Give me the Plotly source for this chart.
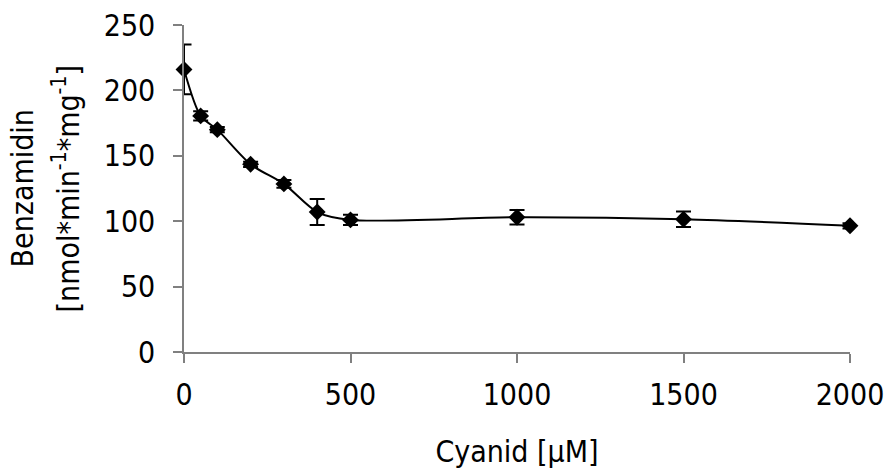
import plotly.graph_objects as go

cyanid = [0, 50, 100, 200, 300, 400, 500, 1000, 1500, 2000]
benzamidin = [216, 180.5, 170, 143.5, 128.5, 107, 101, 103, 101.5, 96.5]
errors = [19, 3.5, 2, 2, 3, 10, 4, 5.5, 6, 2]

x_ticks = [0, 500, 1000, 1500, 2000]
y_ticks = [0, 50, 100, 150, 200, 250]

x_title = "Cyanid [µM]"
y_title_lines = ["Benzamidin", "[nmol*min<sup>-1</sup>*mg<sup>-1</sup>]"]

FONT = "DejaVu Sans Condensed, DejaVu Sans, sans-serif"

fig = go.Figure()
fig.add_trace(go.Scatter(
    x=cyanid, y=benzamidin,
    mode="lines+markers",
    line=dict(color="black", width=2, shape="spline", smoothing=0.8),
    marker=dict(symbol="diamond", size=13, color="black"),
    error_y=dict(type="data", array=errors, visible=True, color="black", thickness=2, width=7.5),
    cliponaxis=False,
    showlegend=False,
))

axis_common = dict(
    showgrid=False, zeroline=False, showline=True, linecolor="#808080", linewidth=1.5,
    ticks="outside", ticklen=9, tickcolor="#808080", tickwidth=1.5,
    tickfont=dict(family=FONT, size=30, color="black"),
    automargin=False,
)

fig.update_layout(
    width=891, height=470,
    margin=dict(l=184, r=41, t=25, b=118),
    paper_bgcolor="white", plot_bgcolor="white",
    font=dict(family=FONT, color="black", size=30),
    xaxis=dict(range=[0, 2000], tickvals=x_ticks, ticktext=[str(v) for v in x_ticks],
               ticklabelstandoff=6,
               title=dict(text=x_title, font=dict(family=FONT, size=30), standoff=30),
               **axis_common),
    yaxis=dict(range=[0, 250], tickvals=y_ticks, ticktext=[str(v) for v in y_ticks],
               ticklabelstandoff=12,
               **axis_common),
)

for txt, shift in zip(y_title_lines, [-162, -117]):
    fig.add_annotation(
        text=txt, textangle=-90, xref="paper", yref="paper", x=0, y=0.5,
        xshift=shift, xanchor="center", yanchor="middle", showarrow=False,
        font=dict(family=FONT, size=30, color="black"),
    )

fig.write_html("out.html", config={"displayModeBar": False},
               post_script="document.body.style.margin='0px';")
